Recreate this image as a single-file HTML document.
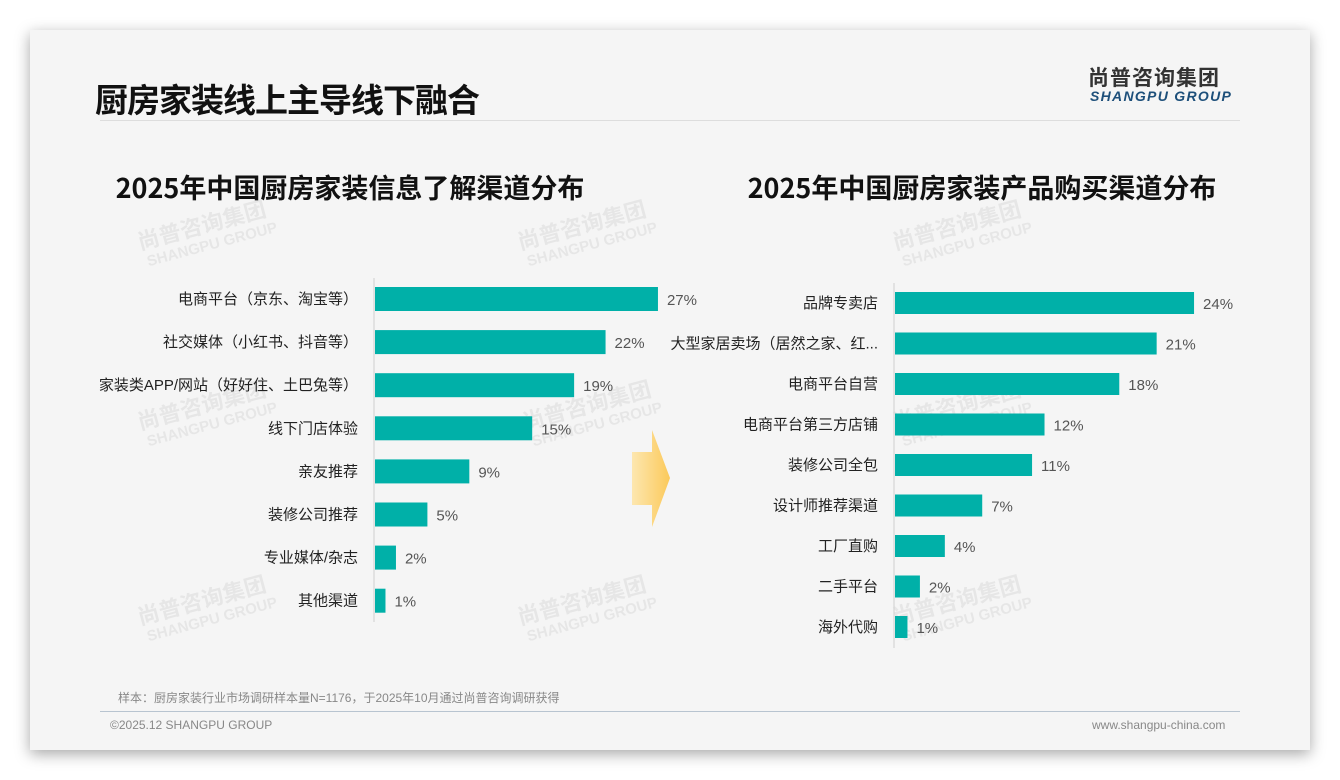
<!DOCTYPE html>
<html><head><meta charset="utf-8"><style>
body{margin:0;width:1340px;height:780px;background:#fff;overflow:hidden;font-family:"Liberation Sans","Noto Sans CJK SC",sans-serif;}
#card{position:absolute;left:30px;top:30px;width:1280px;height:720px;background:#f5f5f5;box-shadow:0 4px 14px rgba(0,0,0,0.35);}
.abs{position:absolute;}
</style></head><body>
<div id="card"></div>
<div class="abs" style="left:95px;top:74px;font-size:33px;font-weight:bold;color:#111;font-family:'Noto Sans CJK SC',sans-serif;letter-spacing:-1px;">厨房家装线上主导线下融合</div>
<div class="abs" style="left:1088px;top:62px;font-size:21px;font-weight:bold;color:#333;font-family:'Noto Sans CJK SC',sans-serif;letter-spacing:1px;">尚普咨询集团</div>
<div class="abs" style="left:1090px;top:88px;font-size:14px;font-weight:bold;font-style:italic;color:#1d4f7a;letter-spacing:1.3px;">SHANGPU GROUP</div>
<div class="abs" style="left:100px;top:120px;width:1140px;height:1px;background:#ddd;"></div>
<div class="abs" style="left:118px;top:689px;font-size:12px;color:#888;">样本：厨房家装行业市场调研样本量N=1176，于2025年10月通过尚普咨询调研获得</div>
<div class="abs" style="left:100px;top:711px;width:1140px;height:1px;background:#b8c4d0;"></div>
<div class="abs" style="left:110px;top:718px;font-size:12px;color:#888;">©2025.12 SHANGPU GROUP</div>
<div class="abs" style="left:1092px;top:718px;font-size:12px;color:#888;">www.shangpu-china.com</div>
<svg class="abs" style="left:0;top:0" width="1340" height="780" id="chart">
<defs><linearGradient id="ag" x1="0" x2="1"><stop offset="0" stop-color="#fde7b0"/><stop offset="1" stop-color="#fbc95a"/></linearGradient></defs>
<g id="wm" fill="#000" opacity="0.06" font-weight="bold"></g>
<text x="350" y="198" text-anchor="middle" font-size="27" font-weight="bold" fill="#111" font-family="Noto Sans CJK SC">2025年中国厨房家装信息了解渠道分布</text>
<text x="982" y="198" text-anchor="middle" font-size="27" font-weight="bold" fill="#111" font-family="Noto Sans CJK SC">2025年中国厨房家装产品购买渠道分布</text>
<polygon points="632,452 652,452 652,430 670,478 652,527 652,505 632,505" fill="url(#ag)"/>
</svg>
<script>
const leftCats=["电商平台（京东、淘宝等）","社交媒体（小红书、抖音等）","家装类APP/网站（好好住、土巴兔等）","线下门店体验","亲友推荐","装修公司推荐","专业媒体/杂志","其他渠道"];
const leftVals=[27,22,19,15,9,5,2,1];
const rightCats=["品牌专卖店","大型家居卖场（居然之家、红...","电商平台自营","电商平台第三方店铺","装修公司全包","设计师推荐渠道","工厂直购","二手平台","海外代购"];
const rightVals=[24,21,18,12,11,7,4,2,1];
const NS="http://www.w3.org/2000/svg";
const svg=document.getElementById('chart');
function mk(t,a){const e=document.createElementNS(NS,t);for(const k in a)e.setAttribute(k,a[k]);svg.appendChild(e);return e;}
function draw(cats,vals,x0,pxPer,y0,step,bh,yTop,yBot,prefix){
  const ax=mk('line',{x1:x0,x2:x0,y1:yTop,y2:yBot,stroke:'#d0d0d0','stroke-width':1});
  
  
  cats.forEach((c,i)=>{
    const cy=y0+i*step, w=vals[i]*pxPer;
    const r=mk('rect',{x:x0+1,y:cy-bh/2,width:w,height:bh,fill:'#00b0a8'});
    
    
    const t=mk('text',{x:x0-16,y:cy+5,'text-anchor':'end','font-size':15,fill:'#222'});
    t.textContent=c;
    
    
    const v=mk('text',{x:x0+w+10,y:cy+6,'font-size':15,fill:'#555'});
    v.textContent=vals[i]+'%';
    
    
  });
}
draw(leftCats,leftVals,374,10.48,299,43.1,24,278,622,'left');
draw(rightCats,rightVals,894,12.46,303,40.5,22,283,648,'right');
const wm=document.getElementById('wm');
[[140,250],[520,250],[895,250],[140,430],[525,430],[895,430],[140,625],[520,625],[895,625]].forEach(p=>{
  const g=document.createElementNS(NS,'g');g.setAttribute('transform',`translate(${p[0]},${p[1]}) rotate(-15)`);
  g.innerHTML=`<text x="0" y="0" font-size="22" font-family="Noto Sans CJK SC">尚普咨询集团</text><text x="4" y="18" font-size="15">SHANGPU GROUP</text>`;
  
  
  wm.appendChild(g);
});
</script>
</body></html>
